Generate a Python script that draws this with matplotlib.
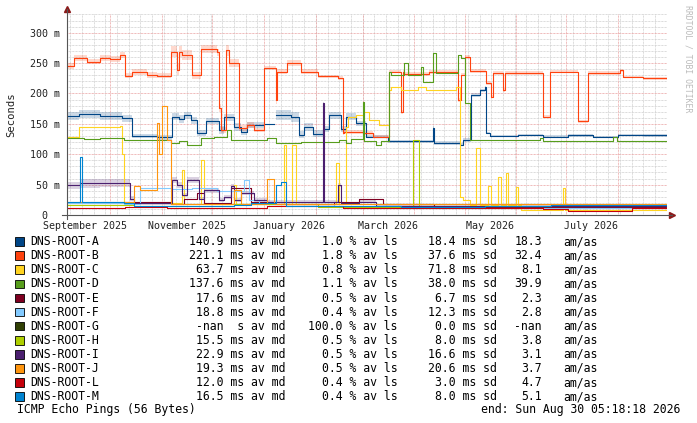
import datetime as dt
import matplotlib
matplotlib.use('Agg')
import matplotlib.pyplot as plt
import matplotlib.dates as mdates
from matplotlib.patches import Rectangle
import numpy as np

nan = np.nan

START = dt.datetime(2025, 9, 5, 0, 0, 0)
END = dt.datetime(2026, 8, 30, 5, 18, 18)

NAMES = ['DNS-ROOT-A', 'DNS-ROOT-B', 'DNS-ROOT-C', 'DNS-ROOT-D', 'DNS-ROOT-E', 'DNS-ROOT-F',
         'DNS-ROOT-G', 'DNS-ROOT-H', 'DNS-ROOT-I', 'DNS-ROOT-J', 'DNS-ROOT-L', 'DNS-ROOT-M']
COLORS = ['#004586', '#ff420e', '#ffd320', '#579d1c', '#7e0021', '#83caff',
          '#314004', '#aecf00', '#4b1f6f', '#ff950e', '#c5000b', '#0084d1']
AVG_MD = ['140.9 ms', '221.1 ms', '63.7 ms', '137.6 ms', '17.6 ms', '18.8 ms',
          '-nan  s', '15.5 ms', '22.9 ms', '19.3 ms', '12.0 ms', '16.5 ms']
LOSS = ['1.0', '1.8', '0.8', '1.1', '0.5', '0.4', '100.0', '0.5', '0.5', '0.5', '0.4', '0.4']
SD = ['18.4', '37.6', '71.8', '38.0', '6.7', '12.3', '0.0', '8.0', '16.6', '20.6', '3.0', '8.0']
AMAS = ['18.3', '32.4', '8.1', '39.9', '2.3', '2.8', '-nan', '3.8', '3.1', '3.7', '4.7', '5.1']

# median rtt (ms), step series: days since START -> value
A_DAYS = [0, 7, 20, 33, 39, 54, 63, 67, 70, 74, 78, 83, 91, 94, 100, 104, 108, 118, 124, 125,
          134, 139, 142, 147, 153, 157, 164, 167, 173, 179, 192, 219, 220, 235, 237, 242, 247, 250, 251, 253,
          270, 285, 300, 315, 330, 345, 359.3]
A_MS = [163, 166, 163, 159, 130, 128, 162, 158, 164, 156, 135, 154, 140, 161, 145, 137, 148, 150, nan, 164,
        161, 132, 145, 134, 141, 164, 141, 162, 151, 129, 121, 143, 118, 116, 123, 197, 205, 210, 135, 130,
        132, 129, 131, 128, 132, 131, 130]
A_SPREAD = [7, 7, 6, 6, 4, 4, 6, 6, 6, 6, 5, 5, 6, 6, 6, 5, 5, 5, 0, 8,
            8, 6, 6, 6, 5, 6, 5, 6, 4, 3, 3, 3, 3, 3, 3, 3, 3, 3, 2, 2,
            2, 2, 2, 2, 2, 2, 2]

B_DAYS = [0, 4, 12, 20, 26, 32, 35, 39, 48, 54, 62, 66, 67, 69, 75, 80, 90, 91, 92, 95,
          97, 103, 108, 112, 118, 125, 126, 132, 140, 150, 162, 165, 166, 177, 183, 193, 200, 201, 202, 217,
          234, 236, 238, 241, 251, 254, 255, 261, 262, 285, 289, 306, 312, 331, 333, 345, 359.3]
B_MS = [245, 259, 252, 259, 256, 264, 229, 236, 231, 229, 269, 239, 269, 263, 230, 273, 268, 176, 140, 271,
        250, 143, 148, 140, 242, 189, 236, 250, 236, 228, 225, 135, 137, 135, 129, 236, 170, 236, 232, 235,
        189, 231, 260, 237, 217, 195, 234, 206, 234, 162, 236, 154, 234, 238, 227, 225, 224]
B_SPREAD = [5, 5, 4, 5, 5, 5, 4, 5, 5, 4, 9, 9, 9, 8, 6, 7, 6, 6, 5, 9,
            7, 5, 5, 4, 4, 6, 4, 5, 4, 3, 3, 3, 3, 3, 3, 3, 3, 3, 3, 3,
            3, 3, 4, 3, 3, 3, 3, 3, 3, 3, 3, 3, 3, 3, 2, 2, 2]

C_DAYS = [0, 7, 32, 33, 34, 69, 70, 80, 82, 100, 101, 130, 131, 135, 137, 161, 163, 167, 168, 173,
          178, 181, 187, 193, 194, 200, 210, 215, 233, 235, 237, 241, 245, 247, 252, 254, 258, 260, 263, 264,
          269, 270, 272, 297, 298, 359.3]
C_MS = [128, 145, 147, 101, 20, 74, 18, 90, 18, 50, 18, 115, 18, 115, 18, 85, 18, 145, 162, 164,
        170, 156, 148, 206, 210, 206, 210, 206, 210, 30, 25, 16, 110, 16, 48, 16, 63, 16, 69, 16,
        46, 16, 8, 44, 8, 8]

D_DAYS = [0, 10, 20, 34, 40, 62, 67, 72, 80, 88, 96, 98, 120, 125, 140, 163, 167, 170, 177, 178,
          185, 188, 193, 194, 202, 204, 212, 213, 219, 221, 234, 236, 238, 241, 283, 285, 327, 329, 359.3]
D_MS = [126, 125, 127, 124, 123, 118, 121, 116, 126, 128, 140, 123, 127, 118, 120, 123, 118, 125, 186, 121,
        115, 121, 236, 230, 250, 230, 244, 219, 266, 233, 263, 258, 184, 123, 126, 121, 129, 122, 122]

E_DAYS = [0, 34, 62, 70, 78, 82, 98, 110, 125, 160, 175, 189, 220, 359.3]
E_MS = [20, 22, 18, 26, 36, 20, 44, 22, 18, 22, 26, 18, 13, 13]

F_DAYS = [0, 34, 44, 62, 75, 90, 106, 109, 115, 160, 200, 359.3]
F_MS = [20, 18, 44, 42, 45, 40, 58, 25, 18, 15, 12, 14]

G_DAYS = [0, 359.3]
G_MS = [nan, nan]

H_DAYS = [0, 40, 100, 150, 207, 211, 359.3]
H_MS = [17, 14, 18, 13, 123, 14, 15]

I_DAYS = [0, 8, 20, 38, 40, 63, 66, 69, 72, 79, 82, 91, 94, 98, 100, 104, 112, 120, 153, 154,
          162, 164, 175, 185, 359.3]
I_MS = [49, 52, 53, 27, 19, 58, 49, 33, 58, 27, 41, 25, 30, 47, 25, 36, 25, 22, 184, 22,
        49, 19, 22, 14, 13]
I_SPREAD = [6, 7, 7, 4, 3, 5, 5, 4, 5, 3, 4, 3, 3, 4, 3, 3, 3, 3, 2, 2, 3, 2, 2, 2, 2]

J_DAYS = [0, 40, 44, 54, 55, 57, 60, 62, 100, 104, 120, 124, 359.3]
J_MS = [22, 47, 41, 151, 101, 179, 123, 18, 41, 18, 60, 18, 14]

L_DAYS = [0, 35, 60, 120, 165, 230, 285, 300, 338, 359.3]
L_MS = [11, 13, 12, 14, 12, 12, 10, 7, 12, 12]

M_DAYS = [0, 8, 9, 34, 40, 80, 100, 110, 125, 128, 131, 165, 200, 250, 290, 359.3]
M_MS = [21, 96, 21, 20, 15, 14, 16, 20, 50, 55, 15, 14, 13, 14, 16, 14]

SERIES = [(A_DAYS, A_MS, A_SPREAD), (B_DAYS, B_MS, B_SPREAD), (C_DAYS, C_MS, None),
          (D_DAYS, D_MS, None), (E_DAYS, E_MS, None), (F_DAYS, F_MS, None),
          (G_DAYS, G_MS, None), (H_DAYS, H_MS, None), (I_DAYS, I_MS, I_SPREAD),
          (J_DAYS, J_MS, None), (L_DAYS, L_MS, None), (M_DAYS, M_MS, None)]

W, H = 697, 423
MONO = 'DejaVu Sans Mono'


def fx(x):
    return x / W


def fy(y):
    return 1 - y / H


fig = plt.figure(figsize=(W / 100, H / 100), dpi=100)
fig.patch.set_facecolor('white')
ax = fig.add_axes([fx(67), fy(215), 600 / W, (215 - 14.5) / H])
ax.set_xlim(START, END)
ax.set_ylim(0, 330)

# grid: minor gray, major red
dot = (0, (0.72, 0.72))
for v in range(10, 331, 10):
    if v % 50:
        ax.axhline(v, color='#d0d0d0', lw=0.72, ls=dot, zorder=0)
weeks = mdates.drange(dt.datetime(2025, 9, 7), END, dt.timedelta(days=7))
for w in weeks:
    ax.axvline(w, color='#d0d0d0', lw=0.72, ls=dot, zorder=0)
for v in range(50, 331, 50):
    ax.axhline(v, color='#eaa4a4', lw=0.72, ls=dot, zorder=0.5)
for m in range(10, 21):
    yr, mo = 2025 + (m - 1) // 12, (m - 1) % 12 + 1
    ax.axvline(dt.datetime(yr, mo, 1), color='#eaa4a4', lw=0.72, ls=dot, zorder=0.5)

for (days, vals, spread), color in zip(SERIES, COLORS):
    dates = [START + dt.timedelta(days=d) for d in days]
    vals = np.array(vals, dtype=float)
    if spread is not None:
        sp = np.array(spread, dtype=float)
        ax.fill_between(dates, vals - sp, vals + sp, step='post', color=color,
                        alpha=0.2, lw=0, zorder=1)
for (days, vals, spread), color in zip(SERIES, COLORS):
    dates = [START + dt.timedelta(days=d) for d in days]
    ax.step(dates, vals, where='post', color=color, lw=0.8, zorder=2)

for s in ax.spines.values():
    s.set_visible(False)
ax.plot([-0.008, 1.008], [0, 0], transform=ax.transAxes, color='#555555', lw=0.8,
        clip_on=False, zorder=3)
ax.plot([0, 0], [-0.02, 1.025], transform=ax.transAxes, color='#555555', lw=0.8,
        clip_on=False, zorder=3)
ax.plot([1.009], [0], marker='>', ms=4, color='#8b1a1a', transform=ax.transAxes, clip_on=False)
ax.plot([0], [1.027], marker='^', ms=4, color='#8b1a1a', transform=ax.transAxes, clip_on=False)

yt = list(range(0, 301, 50))
ax.set_yticks(yt)
ax.set_yticklabels(['0  ' if v == 0 else '%d m' % v for v in yt], fontfamily=MONO,
                   fontsize=7.2, color='#222222')
label_dates = [dt.datetime(2025, 9, 16), dt.datetime(2025, 11, 16), dt.datetime(2026, 1, 16),
               dt.datetime(2026, 3, 16), dt.datetime(2026, 5, 16), dt.datetime(2026, 7, 16)]
ax.set_xticks(label_dates)
ax.set_xticklabels(['September 2025', 'November 2025', 'January 2026',
                    'March 2026', 'May 2026', 'July 2026'], fontfamily=MONO,
                   fontsize=7.2, color='#222222')
ax.tick_params(axis='y', length=0, pad=5)
ax.tick_params(axis='x', length=0, pad=4)

fig.text(fx(11), fy(115), 'Seconds', rotation=90, ha='center', va='center',
         fontfamily=MONO, fontsize=7.6, color='#222222')
fig.text(fx(688), fy(5), 'RRDTOOL / TOBI OETIKER', rotation=270, ha='center', va='top',
         fontfamily=MONO, fontsize=5.9, color='#bbbbbb')

# legend
for i, name in enumerate(NAMES):
    yc = 241.7 + 14.08 * i
    fig.add_artist(Rectangle((fx(15.3), fy(yc + 4.3)), 8.7 / W, 8.7 / H, transform=fig.transFigure,
                             facecolor=COLORS[i], edgecolor='black', lw=0.6))
    kw = dict(fontfamily=MONO, fontsize=8.3, va='center', color='black')
    fig.text(fx(30), fy(yc), name, ha='left', **kw)
    fig.text(fx(285), fy(yc), AVG_MD[i] + ' av md', ha='right', **kw)
    fig.text(fx(397.7), fy(yc), LOSS[i] + ' % av ls', ha='right', **kw)
    fig.text(fx(496.7), fy(yc), SD[i] + ' ms sd', ha='right', **kw)
    fig.text(fx(542), fy(yc), AMAS[i], ha='right', **kw)
    fig.text(fx(563.5), fy(yc), 'am/as', ha='left', **kw)

fig.text(fx(16.7), fy(409.3), 'ICMP Echo Pings (56 Bytes)', ha='left', va='center',
         fontfamily=MONO, fontsize=8.3, color='black')
fig.text(fx(680), fy(409.3), 'end: Sun Aug 30 05:18:18 2026', ha='right', va='center',
         fontfamily=MONO, fontsize=8.3, color='black')

fig.savefig('out.png', dpi=100, facecolor='white')
